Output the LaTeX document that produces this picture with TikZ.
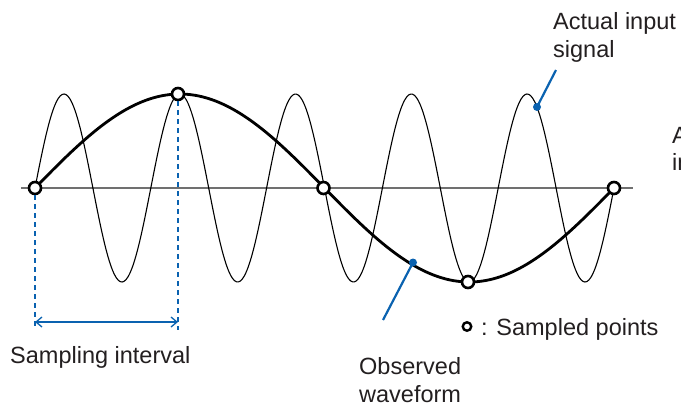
\documentclass[tikz,border=0pt]{standalone}
\usepackage{fontspec}
\setmainfont{Liberation Sans}
\usetikzlibrary{arrows.meta}
\definecolor{txt}{HTML}{231F20}
\definecolor{lead}{HTML}{0A62B0}
\definecolor{axisgray}{HTML}{707070}
\tikzset{
  lbl/.style={inner sep=0pt, font=\fontsize{23.5}{27.5}\selectfont, text=txt, align=left},
  sample/.style={circle, draw=black, fill=white, line width=2.6pt, minimum size=12pt, inner sep=0pt},
  legendpt/.style={circle, draw=black, fill=white, line width=2.4pt, minimum size=8.5pt, inner sep=0pt},
  dot/.style={circle, fill=lead, minimum size=8pt, inner sep=0pt},
  leader/.style={draw=lead, line width=2.2pt},
  guide/.style={draw=lead, line width=2pt, dash pattern=on 5pt off 4pt},
}
\begin{document}
\begin{tikzpicture}[x=1pt,y=-1pt]
\useasboundingbox (0,0) rectangle (681,405);
% axis
\draw[axisgray, line width=2pt] (21,188) -- (633,188);
% actual input signal
\draw[black, line width=1.1pt, smooth, samples=300, domain=35:614]
  plot (\x, {188-94*sin((\x-35)/115.8*360)});
% observed waveform
\draw[black, line width=2.8pt, smooth, samples=120, domain=35:614]
  plot (\x, {188-94*sin((\x-35)/579*360)});
% sampled points
\node[sample] (s0) at (35,188) {};
\node[sample] (s1) at (178,94) {};
\node[sample] (s2) at (323.5,188) {};
\node[sample] (s3) at (468,282) {};
\node[sample] (s4) at (614,188) {};
% guides
\coordinate (g0) at (35,330);
\coordinate (g1) at (178,330);
\draw[guide] (s0.south) -- (g0);
\draw[guide] (s1.south) -- (g1);
\coordinate (a0) at (35,322);
\coordinate (a1) at (178,322);
\draw[lead, line width=1.3pt, {Straight Barb[length=6pt,width=10pt]}-{Straight Barb[length=6pt,width=10pt]}] (a0) -- (a1);
% labels
\node[lbl, anchor=base west] (lsi) at (10,363) {Sampling interval};
\node[lbl, anchor=north west] (lai) at (553,12.5) {Actual input\\signal};
\node[lbl, anchor=north west] (lcut) at (672,127) {A\\in};
\node[lbl, anchor=north west] (low) at (359,357.5) {Observed\\waveform};
\node[legendpt] (lp) at (467,326.5) {};
\node[lbl, anchor=base west] (lsp) at (481,335) {: Sampled points};
% leaders
\node[dot] (d1) at (537,107) {};
\coordinate (e1) at (556,70);
\draw[leader] (e1) -- (d1.center);
\node[dot] (d2) at (413,262.5) {};
\coordinate (e2) at (383,320);
\draw[leader] (e2) -- (d2.center);
\end{tikzpicture}
\end{document}
